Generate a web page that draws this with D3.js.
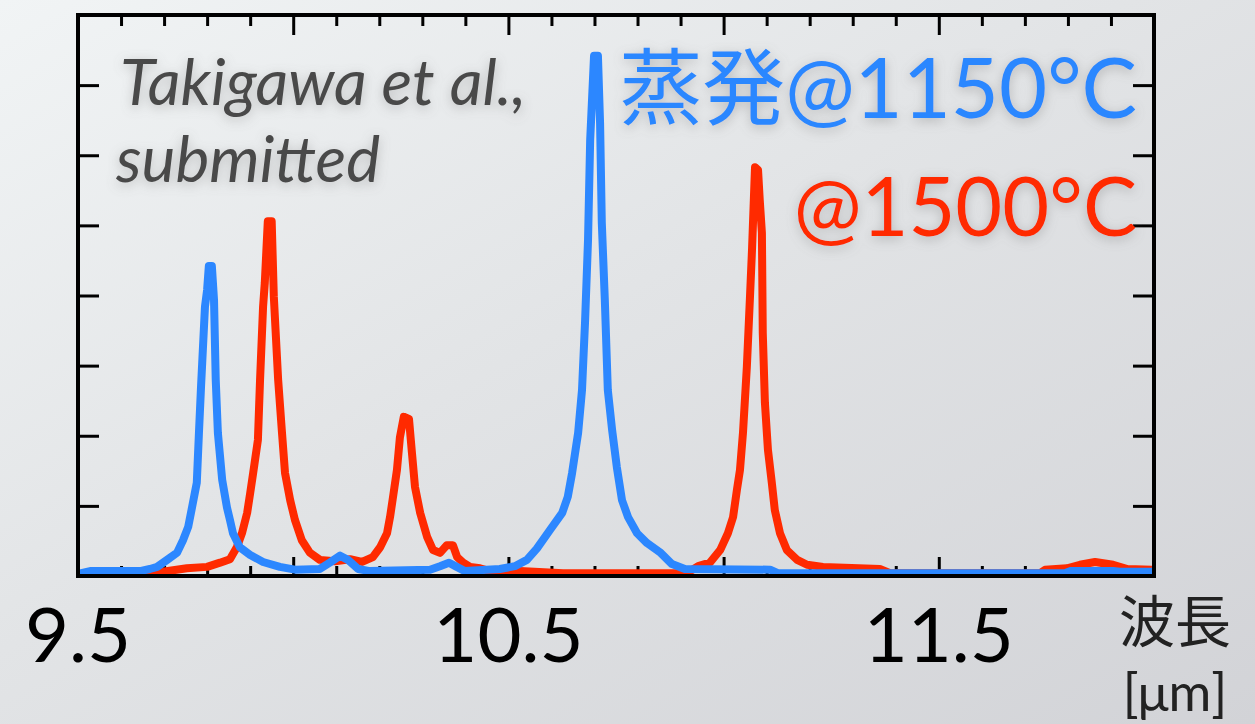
<!doctype html>
<html>

<head>
	<meta charset="UTF-8" />
	<script src="https://d3js.org/d3.v7.min.js"></script>
	<style>
		html, body { margin: 0; padding: 0; overflow: hidden; }
		svg { display: block; }
	</style>
</head>

<body>
	<svg id="chart"></svg>

	<script>
		// Spectrum: wavelength [um] and intensity (0..8 arbitrary units)
		const blueWl = [9.500, 9.528, 9.644, 9.667, 9.684, 9.707, 9.730, 9.744, 9.756, 9.765, 9.776, 9.781, 9.786, 9.795, 9.800, 9.804, 9.811, 9.816, 9.820, 9.825, 9.835, 9.846, 9.853, 9.860, 9.876, 9.900, 9.930, 9.969, 10.004, 10.062, 10.085, 10.109, 10.127, 10.151, 10.178, 10.318, 10.341, 10.362, 10.380, 10.399, 10.480, 10.515, 10.543, 10.566, 10.597, 10.625, 10.638, 10.648, 10.662, 10.671, 10.678, 10.685, 10.690, 10.699, 10.708, 10.713, 10.717, 10.724, 10.731, 10.741, 10.752, 10.764, 10.778, 10.799, 10.822, 10.852, 10.880, 10.910, 11.108, 11.126, 11.793, 11.805, 11.905, 11.921, 12.000];
		const blueI = [0.03, 0.07, 0.07, 0.10, 0.13, 0.23, 0.33, 0.51, 0.70, 0.98, 1.33, 2.04, 2.72, 3.84, 4.08, 4.42, 4.42, 3.94, 2.80, 2.04, 1.37, 0.98, 0.80, 0.61, 0.41, 0.30, 0.20, 0.13, 0.09, 0.10, 0.19, 0.29, 0.23, 0.10, 0.07, 0.09, 0.14, 0.19, 0.13, 0.07, 0.10, 0.14, 0.23, 0.39, 0.66, 0.90, 1.13, 1.47, 2.04, 2.65, 3.61, 4.79, 6.22, 7.42, 7.42, 6.46, 5.04, 3.94, 2.65, 2.08, 1.55, 1.08, 0.84, 0.61, 0.47, 0.34, 0.17, 0.10, 0.09, 0.04, 0.04, 0.07, 0.07, 0.06, 0.06];

		const redWl = [9.656, 9.697, 9.753, 9.800, 9.830, 9.853, 9.869, 9.881, 9.893, 9.900, 9.907, 9.918, 9.923, 9.930, 9.934, 9.941, 9.950, 9.955, 9.965, 9.974, 9.981, 9.993, 10.004, 10.020, 10.039, 10.062, 10.097, 10.132, 10.160, 10.185, 10.202, 10.218, 10.225, 10.232, 10.241, 10.248, 10.257, 10.269, 10.276, 10.283, 10.295, 10.311, 10.325, 10.341, 10.357, 10.371, 10.381, 10.395, 10.411, 10.434, 10.474, 10.527, 10.627, 10.915, 10.941, 10.968, 10.992, 11.010, 11.022, 11.031, 11.038, 11.045, 11.054, 11.061, 11.066, 11.073, 11.080, 11.084, 11.089, 11.091, 11.096, 11.103, 11.112, 11.119, 11.131, 11.147, 11.171, 11.194, 11.231, 11.363, 11.387, 11.735, 11.747, 11.798, 11.828, 11.863, 11.905, 11.938, 11.995];
		const redI = [0.04, 0.06, 0.11, 0.13, 0.19, 0.24, 0.41, 0.61, 0.90, 1.18, 1.47, 1.94, 2.80, 3.84, 4.18, 5.06, 5.06, 3.98, 2.80, 2.04, 1.47, 1.08, 0.80, 0.51, 0.33, 0.23, 0.21, 0.24, 0.20, 0.27, 0.41, 0.61, 0.84, 1.13, 1.51, 1.98, 2.27, 2.24, 1.75, 1.27, 0.90, 0.56, 0.37, 0.33, 0.44, 0.44, 0.27, 0.19, 0.13, 0.11, 0.04, 0.07, 0.04, 0.04, 0.14, 0.19, 0.37, 0.61, 0.84, 1.23, 1.51, 2.04, 2.98, 3.94, 4.65, 5.83, 5.79, 5.36, 4.89, 3.47, 2.47, 1.80, 1.33, 0.94, 0.61, 0.37, 0.23, 0.16, 0.13, 0.10, 0.04, 0.04, 0.09, 0.11, 0.16, 0.20, 0.16, 0.10, 0.09];

		const xLabelTicks = [9.5, 10.5, 11.5];
		const xMajorTicks = [10.0, 10.5, 11.0, 11.5];
		const xMinorTicks = d3.range(9.6, 12.0, 0.1).filter(function (v) { return Math.abs(v * 2 - Math.round(v * 2)) > 0.01; });
		const yTicks = [1, 2, 3, 4, 5, 6, 7];

		(function () {
			"use strict";

			const W = 1255, H = 724;
			const svg = d3.select("#chart").attr("width", W).attr("height", H);

			const defs = svg.append("defs");

			// soft diagonal grey background
			const bg = defs.append("linearGradient").attr("id", "bg")
				.attr("x1", 0).attr("y1", 0).attr("x2", 1).attr("y2", 1);
			bg.append("stop").attr("offset", "0%").attr("stop-color", "#f1f4f5");
			bg.append("stop").attr("offset", "45%").attr("stop-color", "#e2e4e6");
			bg.append("stop").attr("offset", "100%").attr("stop-color", "#d2d3d7");

			const glow = defs.append("filter").attr("id", "glow")
				.attr("x", "-20%").attr("y", "-40%").attr("width", "140%").attr("height", "180%");
			glow.append("feDropShadow").attr("dx", 0).attr("dy", 3)
				.attr("stdDeviation", 6).attr("flood-color", "#7a7a7a").attr("flood-opacity", 0.45);

			svg.append("rect").attr("width", W).attr("height", H).attr("fill", "url(#bg)");

			const x = d3.scaleLinear().domain([9.5, 12.0]).range([78, 1154]);
			const y = d3.scaleLinear().domain([0, 8]).range([576, 15]);

			// Ticks, all pointing inward
			function tickGroup(axis, tx, ty) {
				const g = svg.append("g").attr("transform", "translate(" + tx + "," + ty + ")").call(axis);
				g.select(".domain").remove();
				g.selectAll("line").attr("stroke", "#000").attr("stroke-width", 3);
				g.selectAll("text").remove();
				return g;
			}
			tickGroup(d3.axisBottom(x).tickValues(xMinorTicks).tickSize(-10), 0, y(0));
			tickGroup(d3.axisBottom(x).tickValues(xMajorTicks).tickSize(-19), 0, y(0));
			tickGroup(d3.axisTop(x).tickValues(xMinorTicks).tickSize(-11), 0, y(8));
			tickGroup(d3.axisTop(x).tickValues(xMajorTicks).tickSize(-20), 0, y(8));
			tickGroup(d3.axisLeft(y).tickValues(yTicks).tickSize(-21), x(9.5), 0);
			tickGroup(d3.axisRight(y).tickValues(yTicks).tickSize(-21), x(12.0), 0);

			// Spectra
			const line = d3.line()
				.x(function (d) { return x(d[0]); })
				.y(function (d) { return y(d[1]); })
				.curve(d3.curveLinear);

			const red = redWl.map(function (w, i) { return [w, redI[i]]; });
			const blue = blueWl.map(function (w, i) { return [w, blueI[i]]; });

			svg.append("path").datum(red).attr("d", line)
				.attr("fill", "none").attr("stroke", "#ff2a00").attr("stroke-width", 8).attr("stroke-linejoin", "round");
			svg.append("path").datum(blue).attr("d", line)
				.attr("fill", "none").attr("stroke", "#2c87ff").attr("stroke-width", 8).attr("stroke-linejoin", "round");

			// Frame
			svg.append("rect")
				.attr("x", x(9.5)).attr("y", y(8))
				.attr("width", x(12.0) - x(9.5)).attr("height", y(0) - y(8))
				.attr("fill", "none").attr("stroke", "#000").attr("stroke-width", 4);

			// x tick labels
			svg.selectAll("text.xlab").data(xLabelTicks).enter().append("text")
				.attr("class", "xlab")
				.attr("x", function (d) { return x(d); })
				.attr("y", 662)
				.attr("text-anchor", "middle")
				.attr("font-family", "Lato, sans-serif")
				.attr("font-size", 76)
				.attr("fill", "#000")
				.text(function (d) { return d.toFixed(1); });

			// axis title
			svg.append("text").attr("x", 1175).attr("y", 642)
				.attr("text-anchor", "middle").attr("font-family", "'Noto Sans CJK JP', sans-serif")
				.attr("font-size", 56).attr("fill", "#222").text("波長");
			svg.append("text").attr("x", 1175).attr("y", 711)
				.attr("text-anchor", "middle").attr("font-family", "Lato, sans-serif")
				.attr("font-size", 52).attr("fill", "#222").text("[μm]");

			// citation
			const cite = svg.append("text")
				.attr("font-family", "Lato, sans-serif").attr("font-style", "italic")
				.attr("font-size", 64).attr("fill", "#4a4a4a").attr("filter", "url(#glow)");
			cite.append("tspan").attr("x", 120).attr("y", 105).text("Takigawa et al.,");
			cite.append("tspan").attr("x", 116).attr("y", 182).text("submitted");

			// legend-like labels
			svg.append("text").attr("x", 1137).attr("y", 118)
				.attr("text-anchor", "end")
				.attr("font-family", "Lato, 'Noto Sans CJK JP', sans-serif")
				.attr("font-size", 83).attr("fill", "#2c87ff").attr("filter", "url(#glow)")
				.text("蒸発@1150°C");
			svg.append("text").attr("x", 1137).attr("y", 236)
				.attr("text-anchor", "end")
				.attr("font-family", "Lato, sans-serif")
				.attr("font-size", 81).attr("fill", "#ff2a00").attr("filter", "url(#glow)")
				.text("@1500°C");
		})();
	</script>
</body>

</html>
